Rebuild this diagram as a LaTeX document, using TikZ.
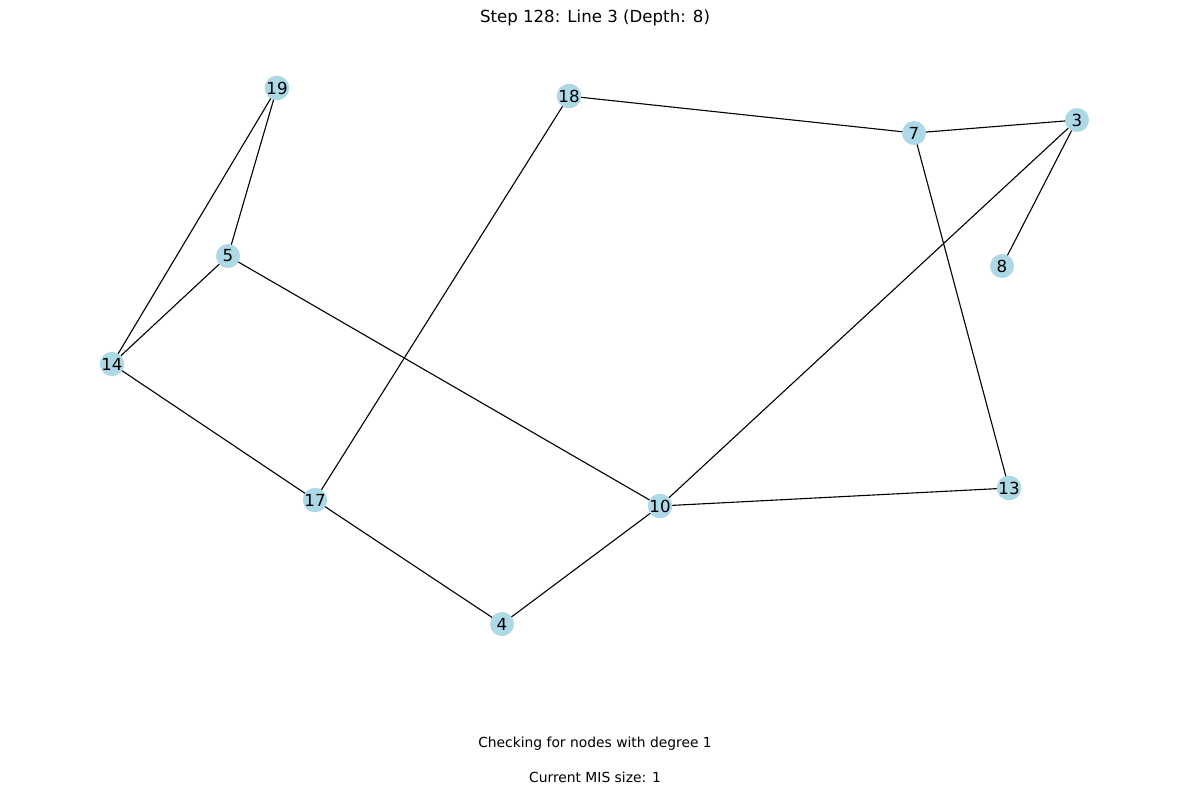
\documentclass[tikz,border=0pt]{standalone}
\usepackage{fontspec}
\setmainfont{DejaVu Sans}
\definecolor{nodeblue}{RGB}{173,216,230}
\pgfdeclarelayer{bg}
\pgfsetlayers{bg,main}
\begin{document}
\begin{tikzpicture}[x=0.01in,y=-0.01in,
  vertex/.style={circle,fill=nodeblue,minimum size=0.24in,inner sep=0pt,font=\fontsize{12}{14}\selectfont},
  edge/.style={draw=black,line width=0.8pt}]
\useasboundingbox (0,0) rectangle (1189,794);
% vertices
\node[vertex] (n19) at (277,88) {19};
\node[vertex] (n18) at (569,96) {18};
\node[vertex] (n7) at (914,133) {7};
\node[vertex] (n3) at (1077,120) {3};
\node[vertex] (n8) at (1002,266) {8};
\node[vertex] (n5) at (228,256) {5};
\node[vertex] (n14) at (112,364) {14};
\node[vertex] (n17) at (315,500) {17};
\node[vertex] (n10) at (660,506) {10};
\node[vertex] (n13) at (1009,488) {13};
\node[vertex] (n4) at (502,624) {4};
% edges, drawn beneath the vertices
\begin{pgfonlayer}{bg}
\foreach \a/\b in {19/5,19/14,5/14,5/10,14/17,17/18,17/4,4/10,10/13,10/3,18/7,7/3,7/13,3/8}
  \draw[edge] (n\a.center) -- (n\b.center);
\end{pgfonlayer}
% captions
\node[font=\fontsize{12}{14}\selectfont] (title) at (595,18) {Step 128: Line 3 (Depth: 8)};
\node[font=\fontsize{10}{12}\selectfont] (info) at (595,744) {Checking for nodes with degree 1};
\node[font=\fontsize{10}{12}\selectfont] (mis) at (595,777) {Current MIS size: 1};
\end{tikzpicture}
\end{document}
